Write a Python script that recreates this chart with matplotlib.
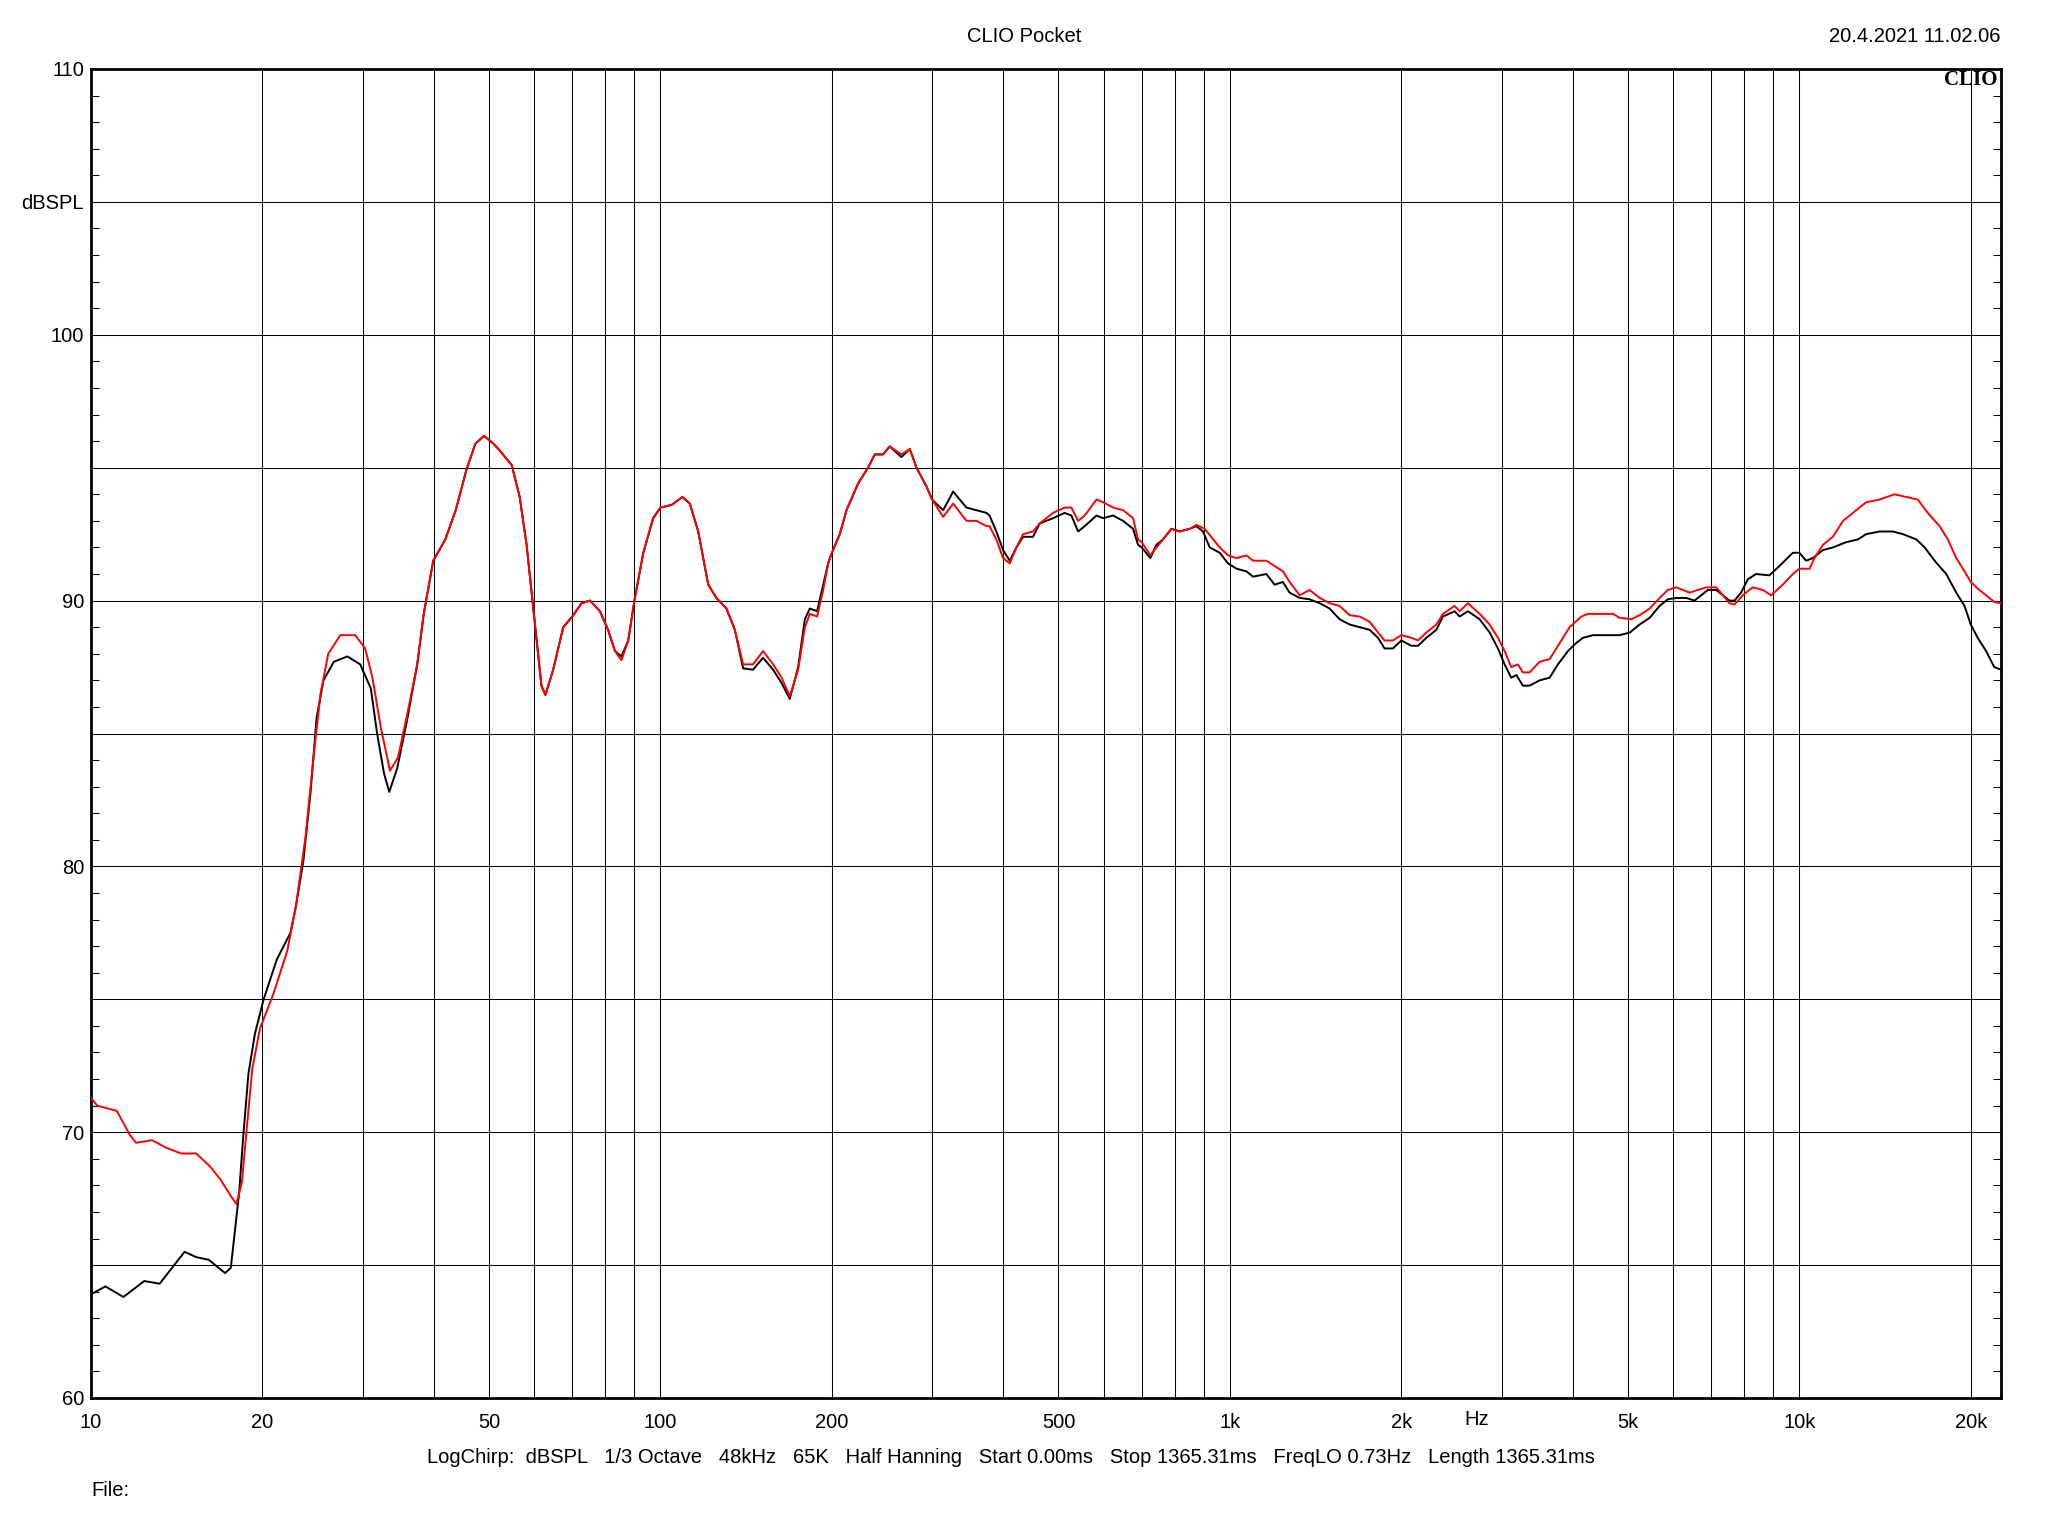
import matplotlib
matplotlib.use("Agg")
import matplotlib.pyplot as plt
import numpy as np
from matplotlib.ticker import FixedLocator, LogLocator, NullFormatter

plt.rcParams['font.family'] = ['Liberation Sans', 'DejaVu Sans']
plt.rcParams['font.size'] = 14.5

# black trace (frequency in Hz, level in dBSPL)
freq_black = [10.0, 10.6, 11.4, 12.4, 13.2, 14.6, 15.3, 16.1, 17.2, 17.6, 18.2, 18.5, 18.9, 19.4,
              20.1, 21.2, 22.4, 22.9, 23.6, 24.3, 24.9, 25.6, 26.7, 28.2, 29.7, 31.0, 31.8, 32.7,
              33.4, 34.5, 35.9, 37.4, 38.4, 39.9, 41.9, 43.7, 45.6, 47.3, 49.0, 50.9, 52.2, 54.8,
              56.6, 58.2, 59.4, 60.6, 61.8, 62.8, 64.8, 67.5, 70.0, 72.7, 75.2, 78.3, 80.9, 83.2,
              85.4, 87.8, 90.0, 93.3, 97.1, 100, 104.6, 109.3, 112.6, 116.5, 121.3, 125.4, 130.6,
              135.1, 139.7, 145.4, 151.4, 157.7, 163.2, 168.7, 174.5, 179.3, 182.9, 188.4, 193.1,
              197, 200, 206.5, 212.2, 222.3, 231.5, 237.9, 246, 252.7, 264.9, 274.1, 281.6, 293.1,
              300, 313.6, 326.6, 344.6, 358.9, 373.7, 378.4, 388.9, 399.6, 410.6, 421.8, 433.4,
              451, 463.4, 489, 512.6, 526.8, 541.3, 555.9, 583.1, 598.9, 623.6, 649.3, 676, 689.7,
              700, 725, 743, 763, 789.3, 816.5, 850, 873.3, 897, 921.6, 959.7, 992.3, 1027, 1069,
              1098, 1159, 1198, 1239, 1273, 1326, 1380, 1438, 1497, 1558, 1623, 1690, 1760, 1820,
              1869, 1933, 2000, 2083, 2140, 2213, 2304, 2366, 2481, 2532, 2618, 2745, 2858, 2956,
              3037, 3119, 3184, 3269, 3359, 3499, 3643, 3767, 3923, 4054, 4169, 4341, 4581, 4834,
              5040, 5241, 5458, 5683, 5875, 6080, 6329, 6546, 6908, 7145, 7540, 7691, 7902, 8117,
              8395, 8859, 9226, 9740, 10000, 10280, 10560, 11000, 11450, 12090, 12670, 13100,
              13830, 14600, 15200, 16050, 16600, 17280, 18110, 18860, 19500, 20000, 20570, 21280,
              21990, 22600]
spl_black = [63.9, 64.2, 63.8, 64.4, 64.3, 65.5, 65.3, 65.2, 64.7, 64.9, 67.7, 69.8, 72.2, 73.7,
             75.0, 76.5, 77.5, 78.5, 80.2, 82.8, 85.6, 87.0, 87.7, 87.9, 87.6, 86.7, 85.0, 83.5,
             82.8, 83.7, 85.5, 87.6, 89.5, 91.5, 92.3, 93.4, 94.9, 95.9, 96.2, 95.9, 95.65, 95.1,
             93.9, 92.1, 90.3, 88.5, 86.8, 86.45, 87.4, 89.0, 89.4, 89.9, 90.0, 89.6, 88.9, 88.1,
             87.9, 88.5, 90.0, 91.8, 93.1, 93.5, 93.6, 93.9, 93.65, 92.6, 90.6, 90.1, 89.7,
             88.9, 87.45, 87.4, 87.85, 87.4, 86.9, 86.3, 87.5, 89.3, 89.7, 89.6, 90.6,
             91.4, 91.8, 92.5, 93.4, 94.4, 95.0, 95.5, 95.5, 95.8, 95.4, 95.7, 95.0, 94.3,
             93.8, 93.4, 94.1, 93.5, 93.4, 93.3, 93.2, 92.6, 91.9, 91.5, 92.0, 92.4,
             92.4, 92.9, 93.1, 93.3, 93.2, 92.6, 92.8, 93.2, 93.1, 93.2, 93.0, 92.7, 92.1,
             92.0, 91.6, 92.1, 92.3, 92.7, 92.6, 92.7, 92.8, 92.6, 92.0, 91.8, 91.4, 91.2, 91.1,
             90.9, 91.0, 90.6, 90.7, 90.3, 90.1, 90.05, 89.9, 89.7, 89.3, 89.1, 89.0, 88.9, 88.6,
             88.2, 88.2, 88.5, 88.3, 88.3, 88.6, 88.9, 89.4, 89.6, 89.4, 89.6, 89.3, 88.8, 88.2,
             87.6, 87.1, 87.2, 86.8, 86.8, 87.0, 87.1, 87.6, 88.1, 88.4, 88.6, 88.7, 88.7, 88.7,
             88.8, 89.1, 89.35, 89.8, 90.05, 90.1, 90.1, 90.0, 90.4, 90.4, 90.0, 90.0, 90.3, 90.8,
             91.0, 90.95, 91.3, 91.8, 91.8, 91.5, 91.6, 91.9, 92.0, 92.2, 92.3, 92.5,
             92.6, 92.6, 92.5, 92.3, 92.0, 91.5, 91.0, 90.3, 89.8, 89.1, 88.6, 88.1,
             87.5, 87.4]

# red trace
freq_red = [10.0, 10.25, 11.1, 11.7, 12.0, 12.8, 13.6, 14.4, 15.3, 16.2, 16.9, 17.6, 18.0, 18.4,
            18.8, 19.2, 19.8, 20.9, 22.1, 22.9, 23.8, 24.7, 25.3, 26.1, 27.4, 29.1, 30.3, 31.2,
            32.3, 33.5, 34.6, 35.9, 37.4, 38.4, 39.9, 41.9, 43.7, 45.6, 47.3, 49.0, 50.9, 52.2,
            54.8, 56.6, 58.2, 59.4, 60.6, 61.8, 62.8, 64.8, 67.5, 70.0, 72.7, 75.2, 78.3, 80.9,
            83.2, 85.4, 87.8, 90.0, 93.3, 97.1, 100, 104.6, 109.3, 112.6, 116.5, 121.3, 125.4,
            130.6, 135.1, 139.7, 145.4, 151.4, 157.7, 163.2, 168.7, 174.5, 179.3, 182.9, 188.4,
            193.1, 197, 200, 206.5, 212.2, 222.3, 231.5, 237.9, 246, 252.7, 264.9, 274.1, 281.6,
            293.1, 300, 313.6, 326.6, 344.6, 358.9, 373.7, 378.4, 388.9, 399.6, 410.6, 421.8,
            433.4, 451, 463.4, 489, 512.6, 526.8, 541.3, 555.9, 583.1, 598.9, 623.6, 649.3, 676,
            689.7, 700, 725, 743, 763, 789.3, 816.5, 850, 873.3, 903, 935, 959.7, 992.3, 1027,
            1069, 1098, 1159, 1198, 1239, 1273, 1326, 1380, 1438, 1497, 1558, 1623, 1690, 1760,
            1820, 1869, 1933, 2000, 2083, 2140, 2213, 2304, 2366, 2481, 2532, 2618, 2745, 2858,
            2956, 3037, 3119, 3205, 3269, 3359, 3499, 3643, 3793, 3950, 4140, 4254, 4400, 4706,
            4834, 5070, 5241, 5458, 5683, 5875, 6080, 6412, 6863, 7145, 7540, 7691, 7955, 8280,
            8626, 8920, 9350, 9740, 10000, 10420, 10630, 11000, 11450, 11930, 12420, 13100,
            13830, 14690, 15400, 16140, 16810, 17630, 18230, 18860, 19500, 20000, 20570, 21280,
            21990, 22600]
spl_red = [71.3, 71.0, 70.8, 69.9, 69.6, 69.7, 69.4, 69.2, 69.2, 68.7, 68.2, 67.6, 67.3, 68.1,
           70.3, 72.4, 73.9, 75.2, 76.8, 78.5, 81.1, 84.5, 86.5, 88.0, 88.7, 88.7, 88.2, 87.1,
           85.2, 83.6, 84.1, 85.7, 87.6, 89.5, 91.5, 92.3, 93.4, 94.9, 95.9, 96.2, 95.9, 95.65,
           95.1, 93.9, 92.1, 90.3, 88.5, 86.8, 86.45, 87.4, 89.0, 89.4, 89.9, 90.0, 89.6, 88.9,
           88.1, 87.76, 88.5, 90.0, 91.8, 93.1, 93.5, 93.6, 93.9, 93.65, 92.6, 90.6, 90.1,
           89.7, 88.9, 87.6, 87.6, 88.1, 87.6, 87.1, 86.4, 87.4, 89.0, 89.5, 89.4,
           90.4, 91.4, 91.8, 92.5, 93.4, 94.4, 95.0, 95.5, 95.5, 95.8, 95.5, 95.7, 95.0,
           94.3, 93.8, 93.15, 93.65, 93.0, 93.0, 92.8, 92.8, 92.3, 91.6, 91.4, 92.0,
           92.5, 92.6, 92.9, 93.3, 93.5, 93.5, 93.0, 93.2, 93.8, 93.7, 93.5, 93.4, 93.1,
           92.3, 92.2, 91.7, 92.0, 92.3, 92.7, 92.6, 92.7, 92.85, 92.7, 92.3, 92.0, 91.7, 91.6,
           91.7, 91.5, 91.5, 91.3, 91.1, 90.7, 90.2, 90.4, 90.1, 89.9, 89.8, 89.45, 89.4, 89.2,
           88.8, 88.5, 88.5, 88.7, 88.6, 88.5, 88.8, 89.1, 89.5, 89.8, 89.6, 89.9, 89.5, 89.1,
           88.6, 88.1, 87.5, 87.6, 87.3, 87.3, 87.7, 87.8, 88.4, 89.0, 89.4, 89.5, 89.5, 89.5,
           89.35, 89.3, 89.45, 89.7, 90.1, 90.4, 90.5, 90.3, 90.5, 90.5, 89.9, 89.85, 90.2, 90.5,
           90.4, 90.2, 90.6, 91.0, 91.2, 91.2, 91.6, 92.1, 92.4, 93.0, 93.3, 93.7,
           93.8, 94.0, 93.9, 93.8, 93.3, 92.8, 92.3, 91.6, 91.1, 90.7, 90.45, 90.2,
           89.95, 89.9]

x_major = [10, 20, 50, 100, 200, 500, 1000, 2000, 5000, 10000, 20000]
x_labels = ['10', '20', '50', '100', '200', '500', '1k', '2k', '5k', '10k', '20k']
y_major = [60, 65, 70, 75, 80, 85, 90, 95, 100, 105, 110]
y_labels = ['60', '', '70', '', '80', '', '90', '', '100', 'dBSPL', '110']

fig = plt.figure(figsize=(20.48, 15.36), dpi=100)
ax = fig.add_axes([91/2048, 1-1398/1536, (2001-91)/2048, (1398-69)/1536])

ax.plot(freq_black, spl_black, color='black', lw=1.4, zorder=3)
ax.plot(freq_red, spl_red, color='#ff0000', lw=1.4, zorder=4)

ax.set_xscale('log')
ax.set_xlim(10, 22600)
ax.set_ylim(60, 110)

ax.xaxis.set_major_locator(FixedLocator(x_major))
ax.set_xticklabels(x_labels)
ax.xaxis.set_minor_locator(LogLocator(base=10, subs=np.arange(2, 10)))
ax.xaxis.set_minor_formatter(NullFormatter())
ax.yaxis.set_major_locator(FixedLocator(y_major))
ax.set_yticklabels(y_labels)
ax.yaxis.set_minor_locator(FixedLocator(np.arange(60, 111, 1)))

ax.grid(True, which='both', axis='x', color='black', lw=0.75)
ax.grid(True, which='major', axis='y', color='black', lw=0.75)
ax.tick_params(axis='x', which='both', length=0, pad=11)
ax.tick_params(axis='y', which='major', length=0, pad=5)
ax.tick_params(axis='y', which='minor', direction='in', length=6, width=0.75,
               left=True, right=True)
for s in ax.spines.values():
    s.set_linewidth(2)

# "Hz" marker sits in the tick label row between 2k and 5k
ax.text(2710, -0.0165, 'Hz', transform=ax.get_xaxis_transform(), ha='center',
        va='center')
ax.text(0.998, 0.999, 'CLIO', transform=ax.transAxes, ha='right', va='top',
        fontfamily='Liberation Serif', fontweight='bold', fontsize=15, zorder=5)

fig.text(0.5, 0.976, 'CLIO Pocket', ha='center', va='center')
fig.text(0.977, 0.976, '20.4.2021 11.02.06', ha='right', va='center')
fig.text(0.4936, 0.051,
         'LogChirp:  dBSPL   1/3 Octave   48kHz   65K   Half Hanning   Start 0.00ms   '
         'Stop 1365.31ms   FreqLO 0.73Hz   Length 1365.31ms',
         ha='center', va='center')
fig.text(0.0446, 0.0295, 'File:', ha='left', va='center')

fig.savefig('out.png', dpi=100, facecolor='white')
